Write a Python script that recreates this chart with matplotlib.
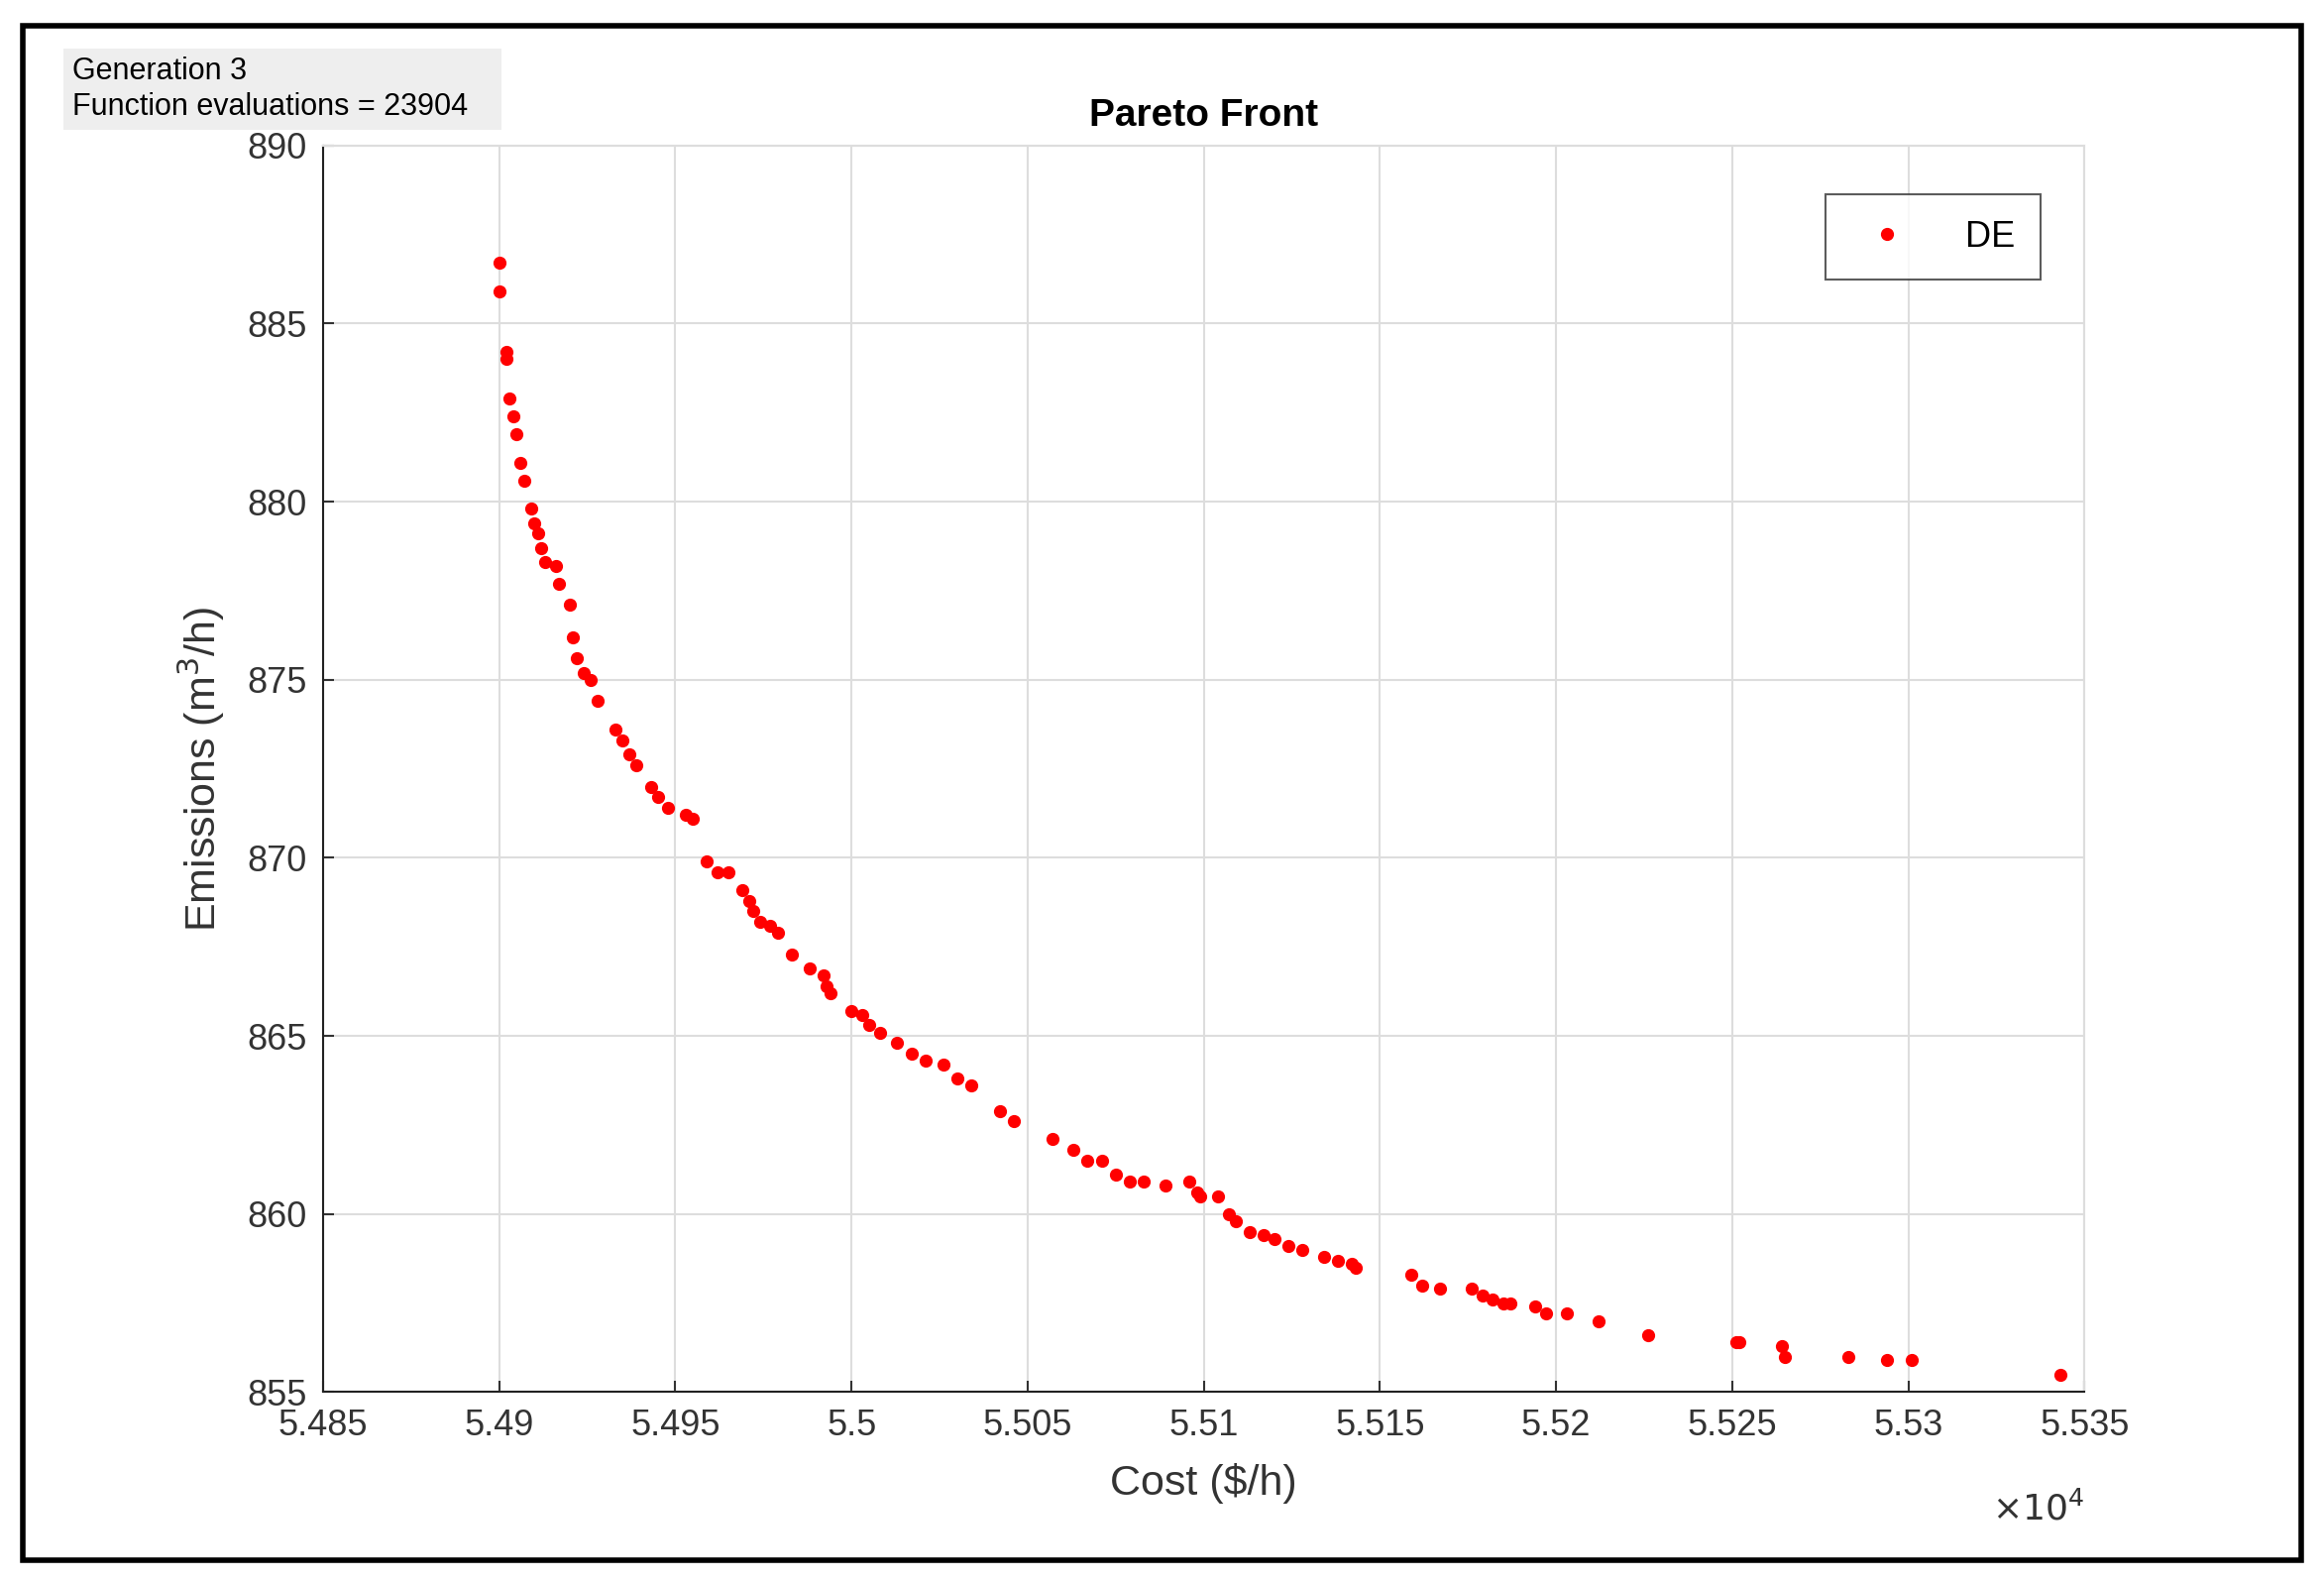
import matplotlib
matplotlib.use("Agg")
import matplotlib.pyplot as plt
from matplotlib.patches import Rectangle

plt.rcParams['font.family'] = ['Liberation Sans', 'DejaVu Sans']

# Cost in units of 1e4 $/h
cost = [5.4900,5.4900,5.4902,5.4902,5.4903,5.4904,5.4905,5.4906,5.4907,5.4909,5.4910,5.4911,5.4912,5.4913,
        5.4916,5.4917,5.4920,5.4921,5.4922,5.4924,5.4926,5.4928,5.4933,5.4935,5.4937,5.4939,5.4943,5.4945,
        5.4948,5.4953,5.4955,5.4959,5.4962,5.4965,5.4969,5.4971,5.4972,5.4974,5.4977,5.4979,5.4983,5.4988,
        5.4992,5.4993,5.4994,5.5000,5.5003,5.5005,5.5008,5.5013,5.5017,5.5021,5.5026,5.5030,5.5034,5.5042,
        5.5046,5.5057,5.5063,5.5067,5.5071,5.5075,5.5079,5.5083,5.5089,5.5096,5.5098,5.5099,5.5104,5.5107,
        5.5109,5.5113,5.5117,5.5120,5.5124,5.5128,5.5134,5.5138,5.5142,5.5143,5.5159,5.5162,5.5167,5.5176,
        5.5179,5.5182,5.5185,5.5187,5.5194,5.5197,5.5203,5.5212,5.5226,5.5251,5.5252,5.5264,5.5265,5.5283,
        5.5294,5.5301,5.5343]
emissions = [886.7,885.9,884.2,884.0,882.9,882.4,881.9,881.1,880.6,879.8,879.4,879.1,878.7,878.3,
             878.2,877.7,877.1,876.2,875.6,875.2,875.0,874.4,873.6,873.3,872.9,872.6,872.0,871.7,
             871.4,871.2,871.1,869.9,869.6,869.6,869.1,868.8,868.5,868.2,868.1,867.9,867.3,866.9,
             866.7,866.4,866.2,865.7,865.6,865.3,865.1,864.8,864.5,864.3,864.2,863.8,863.6,862.9,
             862.6,862.1,861.8,861.5,861.5,861.1,860.9,860.9,860.8,860.9,860.6,860.5,860.5,860.0,
             859.8,859.5,859.4,859.3,859.1,859.0,858.8,858.7,858.6,858.5,858.3,858.0,857.9,857.9,
             857.7,857.6,857.5,857.5,857.4,857.2,857.2,857.0,856.6,856.4,856.4,856.3,856.0,856.0,
             855.9,855.9,855.5]
xticks = [5.485,5.49,5.495,5.5,5.505,5.51,5.515,5.52,5.525,5.53,5.535]
xticklabels = ['5.485','5.49','5.495','5.5','5.505','5.51','5.515','5.52','5.525','5.53','5.535']
yticks = [855,860,865,870,875,880,885,890]

fig = plt.figure(figsize=(23.45,15.96), dpi=100)
fig.patches.append(Rectangle((0.010,0.014),0.980,0.970, transform=fig.transFigure,
                             fill=False, edgecolor='black', linewidth=4))
ax = fig.add_axes([0.139,0.120,0.758,0.788])
ax.plot(cost, emissions, 'o', color='red', markersize=8.5, label='DE', linestyle='none')
ax.set_xlim(5.485,5.535); ax.set_ylim(855,890)
ax.set_xticks(xticks); ax.set_xticklabels(xticklabels)
ax.set_yticks(yticks)
ax.grid(True, color='#dddddd', linewidth=1.5)
ax.tick_params(direction='in', labelsize=26, colors='#333333', length=8, width=1.5, pad=12)
for s in ['left','bottom']:
    ax.spines[s].set_color('#222222'); ax.spines[s].set_linewidth(1.5)
for s in ['top','right']:
    ax.spines[s].set_color('#dddddd'); ax.spines[s].set_linewidth(1.5)
ax.set_xlabel('Cost ($/h)', fontsize=31, color='#333333', labelpad=14)
ax.set_ylabel('Emissions (m$^3$/h)', fontsize=31, color='#333333', labelpad=14)
ax.set_title('Pareto Front', fontsize=28, fontweight='bold', pad=14)
ax.text(1.0, -0.08, r'$\times10^4$', transform=ax.transAxes, fontsize=26, ha='right', va='top', color='#333333')
leg = ax.legend(loc='upper right', fontsize=26, fancybox=False, edgecolor='#333333',
                borderpad=0.7, handletextpad=1.2, bbox_to_anchor=(0.985,0.975))
leg.get_frame().set_linewidth(1.5)
fig.text(0.031, 0.923, 'Generation 3\nFunction evaluations = 23904   ', fontsize=22, va='bottom', ha='left',
         linespacing=1.25, bbox=dict(facecolor='#eeeeee', edgecolor='none', pad=6))
fig.savefig('out.png', dpi=100)
